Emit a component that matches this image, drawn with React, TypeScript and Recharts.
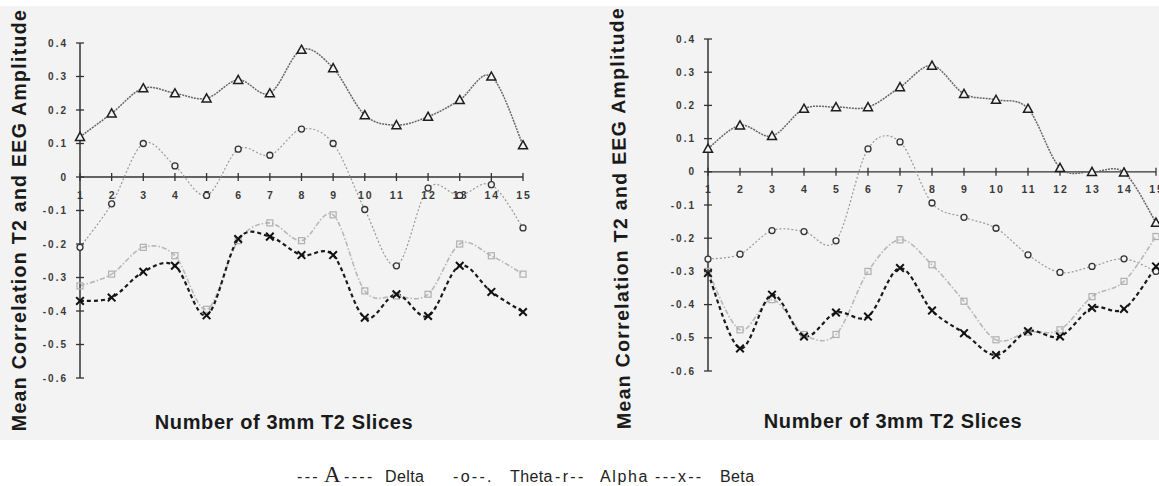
import React from 'react';
import { LineChart, Line, XAxis, YAxis, ReferenceLine, ReferenceDot } from 'recharts';

// Slice counts along the x axis and the correlation ticks on the y axis
const slices = [1, 2, 3, 4, 5, 6, 7, 8, 9, 10, 11, 12, 13, 14, 15];
const yTicks = [0.4, 0.3, 0.2, 0.1, 0, -0.1, -0.2, -0.3, -0.4, -0.5, -0.6];

// Left panel
const leftDelta = [0.12, 0.19, 0.265, 0.25, 0.235, 0.29, 0.25, 0.38, 0.325, 0.185, 0.155, 0.18, 0.23, 0.3, 0.095];
const leftTheta = [-0.21, -0.08, 0.1, 0.033, -0.055, 0.083, 0.065, 0.143, 0.1, -0.097, -0.265, -0.033, -0.055, -0.023, -0.152];
const leftAlpha = [-0.325, -0.29, -0.21, -0.235, -0.395, -0.19, -0.137, -0.19, -0.113, -0.34, -0.355, -0.35, -0.2, -0.235, -0.29];
const leftBeta = [-0.37, -0.36, -0.283, -0.265, -0.413, -0.185, -0.178, -0.233, -0.233, -0.42, -0.35, -0.415, -0.265, -0.343, -0.403];

// Right panel
const rightDelta = [0.07, 0.14, 0.108, 0.19, 0.195, 0.195, 0.255, 0.32, 0.235, 0.217, 0.19, 0.012, 0.0, -0.002, -0.153];
const rightTheta = [-0.263, -0.248, -0.177, -0.18, -0.208, 0.069, 0.09, -0.094, -0.137, -0.17, -0.25, -0.303, -0.285, -0.262, -0.3];
const rightAlpha = [-0.3, -0.476, -0.385, -0.49, -0.49, -0.3, -0.205, -0.28, -0.39, -0.506, -0.483, -0.476, -0.376, -0.33, -0.195];
const rightBeta = [-0.305, -0.532, -0.37, -0.496, -0.424, -0.436, -0.29, -0.418, -0.486, -0.552, -0.48, -0.496, -0.41, -0.413, -0.285];

const yTitle = 'Mean Correlation T2 and EEG Amplitude';
const xTitle = 'Number of 3mm T2 Slices';

const BG = '#f2f3f2';
const SANS = '"Liberation Sans", Arial, sans-serif';
const SERIF = '"Liberation Serif", "DejaVu Serif", serif';

const buildRows = (delta: number[], theta: number[], alpha: number[], beta: number[]) =>
  slices.map((s, i) => ({ slice: s, delta: delta[i], theta: theta[i], alpha: alpha[i], beta: beta[i] }));

const leftRows = buildRows(leftDelta, leftTheta, leftAlpha, leftBeta);
const rightRows = buildRows(rightDelta, rightTheta, rightAlpha, rightBeta);

// Catmull-Rom spline through every point, written against the d3 curve interface
const catmullRom = (context: any) => {
  let pts: number[][] = [];
  return {
    areaStart() {},
    areaEnd() {},
    lineStart() {
      pts = [];
    },
    point(x: number, y: number) {
      pts.push([+x, +y]);
    },
    lineEnd() {
      const n = pts.length;
      if (!n) return;
      context.moveTo(pts[0][0], pts[0][1]);
      for (let i = 0; i < n - 1; i++) {
        const p0 = pts[Math.max(i - 1, 0)];
        const p1 = pts[i];
        const p2 = pts[i + 1];
        const p3 = pts[Math.min(i + 2, n - 1)];
        context.bezierCurveTo(
          p1[0] + (p2[0] - p0[0]) / 6,
          p1[1] + (p2[1] - p0[1]) / 6,
          p2[0] - (p3[0] - p1[0]) / 6,
          p2[1] - (p3[1] - p1[1]) / 6,
          p2[0],
          p2[1]
        );
      }
    },
  };
};

const TriangleDot = (p: any) => {
  const { cx, cy } = p;
  if (cx == null || cy == null) return null;
  const s = 4.5;
  return (
    <path
      d={`M${cx},${cy - s} L${cx + s},${cy + s * 0.8} L${cx - s},${cy + s * 0.8} Z`}
      fill={BG}
      stroke="#1e1e1e"
      strokeWidth={1.5}
    />
  );
};

const CircleDot = (p: any) => {
  const { cx, cy } = p;
  if (cx == null || cy == null) return null;
  return <circle cx={cx} cy={cy} r={3} fill={BG} stroke="#333" strokeWidth={1.3} />;
};

const SquareDot = (p: any) => {
  const { cx, cy } = p;
  if (cx == null || cy == null) return null;
  return <rect x={cx - 3} y={cy - 3} width={6} height={6} fill="none" stroke="#b0b0b0" strokeWidth={1.2} />;
};

const CrossDot = (p: any) => {
  const { cx, cy } = p;
  if (cx == null || cy == null) return null;
  const s = 3.8;
  return (
    <path
      d={`M${cx - s},${cy - s} L${cx + s},${cy + s} M${cx - s},${cy + s} L${cx + s},${cy - s}`}
      stroke="#111"
      strokeWidth={2}
    />
  );
};

const fmt = (v: number) => (Math.abs(v) < 1e-9 ? '0' : v.toFixed(1));

const TICK_GAP = 12;

// Value labels on the y axis with a short mark crossing the axis line
const YTick = (props: any) => {
  const { x, y, payload } = props;
  const ax = x + TICK_GAP;
  return (
    <g>
      <line x1={ax - 4} x2={ax + 4} y1={y} y2={y} stroke="#333" strokeWidth={1.3} />
      <text
        x={x}
        y={y}
        dy={3.5}
        textAnchor="end"
        fontSize={10}
        fontWeight="bold"
        letterSpacing={2}
        fill="#3a3a3a"
        fontFamily={SANS}
      >
        {fmt(payload.value)}
      </text>
    </g>
  );
};

// Slice-number marks drawn on the zero line
const XTick = ({ cx, cy, value }: any) => {
  if (cx == null || cy == null) return null;
  return (
    <g>
      <line x1={cx} x2={cx} y1={cy - 4} y2={cy + 4} stroke="#333" strokeWidth={1.3} />
      <text
        x={cx + 1}
        y={cy + 21.5}
        textAnchor="middle"
        fontSize={10.5}
        fontWeight="bold"
        letterSpacing={2}
        fill="#3a3a3a"
        fontFamily={SANS}
      >
        {value}
      </text>
    </g>
  );
};

const Panel = ({ rows, width, height, margin }: any) => (
  <LineChart width={width} height={height} data={rows} margin={margin}>
    <XAxis dataKey="slice" type="number" domain={[1, 15]} ticks={slices} hide />
    <YAxis
      type="number"
      domain={[-0.6, 0.4]}
      ticks={yTicks}
      interval={0}
      width={40}
      tickSize={0}
      tickMargin={TICK_GAP}
      tickLine={false}
      axisLine={{ stroke: '#333', strokeWidth: 1.5 }}
      tick={<YTick />}
    />
    <ReferenceLine y={0} stroke="#333" strokeWidth={1.3} />
    {slices.map((s) => (
      <ReferenceDot
        key={s}
        x={s}
        y={0}
        r={1}
        ifOverflow="visible"
        shape={(p: any) => <XTick cx={p.cx} cy={p.cy} value={s} />}
      />
    ))}
    <Line
      dataKey="theta"
      type={catmullRom as any}
      stroke="#9a9a9a"
      strokeWidth={1.2}
      strokeDasharray="2 2"
      dot={<CircleDot />}
      isAnimationActive={false}
    />
    <Line
      dataKey="alpha"
      type={catmullRom as any}
      stroke="#b8b8b8"
      strokeWidth={1.6}
      strokeDasharray="5 2 1.5 2"
      dot={<SquareDot />}
      isAnimationActive={false}
    />
    <Line
      dataKey="beta"
      type={catmullRom as any}
      stroke="#1a1a1a"
      strokeWidth={2.2}
      strokeDasharray="4 3"
      dot={<CrossDot />}
      isAnimationActive={false}
    />
    <Line
      dataKey="delta"
      type={catmullRom as any}
      stroke="#666"
      strokeWidth={1.5}
      strokeDasharray="2 1"
      dot={<TriangleDot />}
      isAnimationActive={false}
    />
  </LineChart>
);

const legendSymbol = { fontFamily: SANS, fontSize: 16, fill: '#222', letterSpacing: 2.3 };
const legendWord = { fontFamily: SANS, fontSize: 16, fill: '#222', letterSpacing: 0.4 };

export default function App() {
  return (
    <div style={{ position: 'absolute', left: 0, top: 0, width: 1159, height: 486, background: '#fff', overflow: 'hidden' }}>
      <div style={{ position: 'absolute', left: 0, top: 6, width: 1159, height: 434, background: BG }} />
      <svg width={1159} height={486} style={{ position: 'absolute', left: 0, top: 0 }}>
        <text
          transform="translate(18.5,220) rotate(-90)"
          textAnchor="middle"
          dominantBaseline="central"
          fontFamily={SANS}
          fontWeight="bold"
          fontSize={19.5}
          letterSpacing={1.3}
          fill="#1a1a1a"
        >
          {yTitle}
        </text>
        <text
          transform="translate(620,218) rotate(-91)"
          textAnchor="middle"
          dominantBaseline="central"
          fontFamily={SANS}
          fontWeight="bold"
          fontSize={19.5}
          letterSpacing={1.3}
          fill="#1a1a1a"
        >
          {yTitle}
        </text>
        <text x={284} y={429} textAnchor="middle" fontFamily={SANS} fontWeight="bold" fontSize={20} letterSpacing={0.6} fill="#1a1a1a">
          {xTitle}
        </text>
        <text x={893} y={428} textAnchor="middle" fontFamily={SANS} fontWeight="bold" fontSize={20} letterSpacing={0.6} fill="#1a1a1a">
          {xTitle}
        </text>
        <text x={297} y={482} {...legendSymbol}>---</text>
        <text x={324} y={482} fontFamily={SERIF} fontSize={23} fill="#222">A</text>
        <text x={344} y={482} {...legendSymbol}>----</text>
        <text x={385} y={482} {...legendWord}>Delta</text>
        <text x={453} y={482} {...legendSymbol}>-o--.</text>
        <text x={510} y={482} {...legendWord}>Theta</text>
        <text x={555} y={482} {...legendSymbol}>-r--</text>
        <text x={600} y={482} {...legendWord} letterSpacing={1.6}>Alpha</text>
        <text x={655} y={482} {...legendSymbol}>---x--</text>
        <text x={720} y={482} {...legendWord}>Beta</text>
      </svg>
      <div style={{ position: 'absolute', left: 0, top: 0 }}>
        <Panel rows={leftRows} width={560} height={440} margin={{ top: 43, right: 37, bottom: 62, left: 40 }} />
      </div>
      <div style={{ position: 'absolute', left: 580, top: 0 }}>
        <Panel rows={rightRows} width={579} height={440} margin={{ top: 39, right: 3, bottom: 69, left: 88 }} />
      </div>
    </div>
  );
}
